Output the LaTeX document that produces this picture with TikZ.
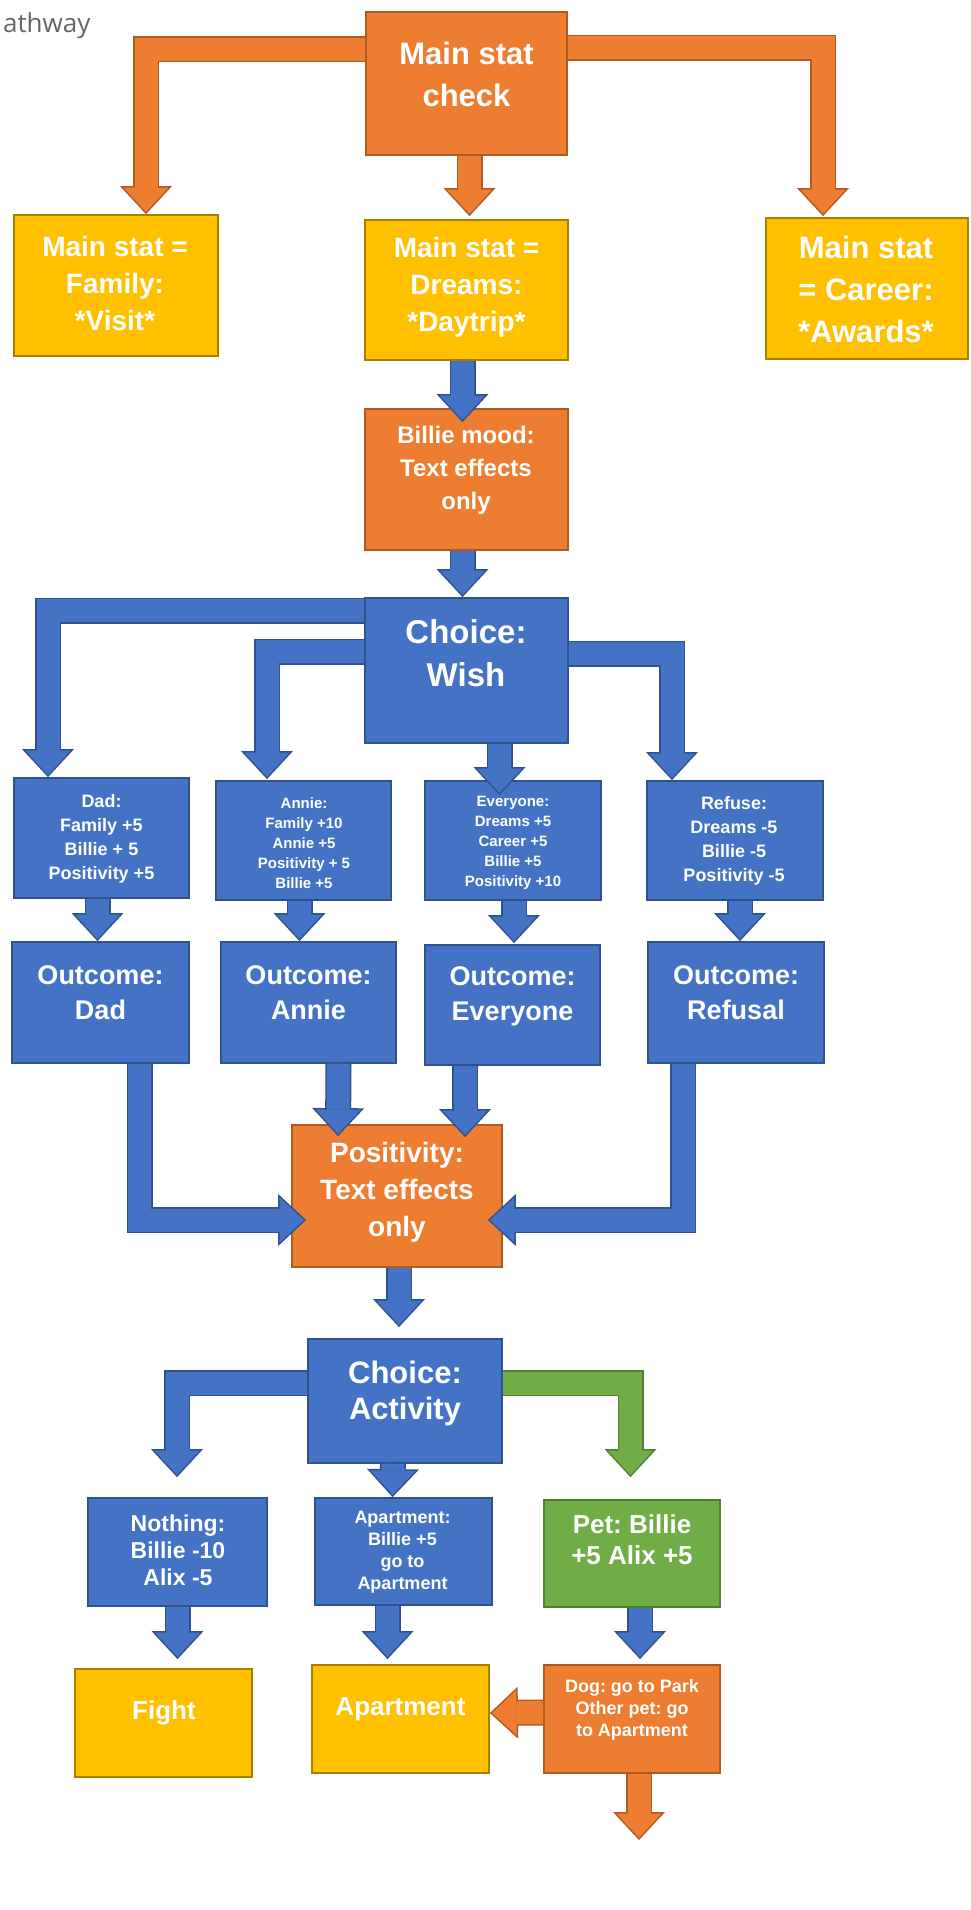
\documentclass[tikz,border=0pt]{standalone}
\usepackage{fontspec}
\setmainfont{Liberation Sans}
\newfontfamily\notefont{Open Sans}
\usetikzlibrary{arrows.meta, positioning, calc}
\definecolor{stepblue}{HTML}{4472C4}
\definecolor{stepblueedge}{HTML}{2F528F}
\definecolor{checkorange}{HTML}{ED7D31}
\definecolor{checkorangeedge}{HTML}{AE5A21}
\definecolor{resultgold}{HTML}{FFC000}
\definecolor{resultgoldedge}{HTML}{A88000}
\definecolor{petgreen}{HTML}{70AD47}
\definecolor{petgreenedge}{HTML}{507E32}
\definecolor{notegray}{HTML}{666666}

% bold white card text at a given size
\newcommand{\fs}[2]{\fontsize{#1}{#2}\selectfont\bfseries\frenchspacing}

% block arrow: fill colour, edge colour, path
\newcommand{\blockarrow}[3]{%
    \draw[#2, line width=13pt, -{Triangle[width=26pt,length=14pt,line width=0pt]}] #3;
    \draw[#1, line width=11.5pt, shorten >=1.1pt, -{Triangle[width=22.6pt,length=12.15pt,line width=0pt]}] #3;
}

\tikzset{
    card/.style={draw, line width=0.9pt, inner sep=0pt},
    bluecard/.style={card, fill=stepblue, draw=stepblueedge},
    orangecard/.style={card, fill=checkorange, draw=checkorangeedge},
    goldcard/.style={card, fill=resultgold, draw=resultgoldedge},
    greencard/.style={card, fill=petgreen, draw=petgreenedge},
    cardtext/.style={text=white, align=center, inner sep=0pt}
}

\begin{document}
\begin{tikzpicture}[x=0.5pt, y=-0.5pt]
    \useasboundingbox (0,0) rectangle (970,1910);

    % Page title, cut off at the edge
    \node[anchor=base west, font=\notefont\fontsize{13}{15}\selectfont, text=notegray] (pathway) at (-4,33) {athway};

    % Main stat check
    \node[orangecard, minimum width=100.5pt, minimum height=71.5pt] (main) at (466.5,83.5) {};
    \node[cardtext, font=\fs{15.5}{21}] (main-txt) at (466.5,74) {Main stat\\check};

    % Main stat results
    \node[goldcard, minimum width=102pt, minimum height=70.5pt] (family) at (116,285.5) {};
    \node[cardtext, font=\fs{14}{18.5}] (family-txt) at (115,283) {Main stat =\\Family:\\*Visit*};

    \node[goldcard, minimum width=101.5pt, minimum height=70pt] (dreams) at (466.5,290) {};
    \node[cardtext, font=\fs{14}{18.5}] (dreams-txt) at (466.5,287) {Main stat =\\Dreams:\\*Daytrip*};

    \node[goldcard, minimum width=101pt, minimum height=70.5pt] (career) at (867,288.5) {};
    \node[cardtext, font=\fs{15.5}{21}] (career-txt) at (866,289) {Main stat\\= Career:\\*Awards*};

    % Billie mood
    \node[orangecard, minimum width=101.5pt, minimum height=70.5pt] (mood) at (466.5,479.5) {};
    \node[cardtext, font=\fs{12}{16.5}] (mood-txt) at (466,470) {Billie mood:\\Text effects\\only};

    % Choice: Wish
    \node[bluecard, minimum width=101.5pt, minimum height=72.5pt] (wish) at (466.5,670.5) {};
    \node[cardtext, font=\fs{16.5}{21.5}] (wish-txt) at (466,653) {Choice:\\Wish};

    % Wish options
    \node[bluecard, minimum width=87.5pt, minimum height=60pt] (dad) at (101.5,838) {};
    \node[cardtext, font=\fs{9}{12}] (dad-txt) at (101.5,839) {Dad:\\Family +5\\Billie + 5\\Positivity +5};

    \node[bluecard, minimum width=87.5pt, minimum height=59.5pt] (annie) at (303.5,840.5) {};
    \node[cardtext, font=\fs{7.5}{10}] (annie-txt) at (304,843) {Annie:\\Family +10\\Annie +5\\Positivity + 5\\Billie +5};

    \node[bluecard, minimum width=88pt, minimum height=59.5pt] (every) at (513,840.5) {};
    \node[cardtext, font=\fs{7.5}{10}] (every-txt) at (513,843) {Everyone:\\Dreams +5\\Career +5\\Billie +5\\Positivity +10};

    \node[bluecard, minimum width=88pt, minimum height=59.5pt] (refuse) at (735,840.5) {};
    \node[cardtext, font=\fs{9}{12}] (refuse-txt) at (734,841) {Refuse:\\Dreams -5\\Billie -5\\Positivity -5};

    % Outcomes
    \node[bluecard, minimum width=88.5pt, minimum height=60.5pt] (odad) at (100.5,1002.5) {};
    \node[cardtext, font=\fs{13.5}{17.5}] (odad-txt) at (100.5,993) {Outcome:\\Dad};

    \node[bluecard, minimum width=87.5pt, minimum height=60.5pt] (oannie) at (308.5,1002.5) {};
    \node[cardtext, font=\fs{13.5}{17.5}] (oannie-txt) at (308.5,993) {Outcome:\\Annie};

    \node[bluecard, minimum width=87.5pt, minimum height=60pt] (oevery) at (512.5,1005) {};
    \node[cardtext, font=\fs{13.5}{17.5}] (oevery-txt) at (512.5,996) {Outcome:\\Everyone};

    \node[bluecard, minimum width=88pt, minimum height=60.5pt] (orefusal) at (736,1002.5) {};
    \node[cardtext, font=\fs{13.5}{17.5}] (orefusal-txt) at (736,993) {Outcome:\\Refusal};

    % Positivity
    \node[orangecard, minimum width=105pt, minimum height=71pt] (positivity) at (397,1196) {};
    \node[cardtext, font=\fs{14}{18.5}] (positivity-txt) at (397,1192) {Positivity:\\Text effects\\only};

    % Choice: Activity
    \node[bluecard, minimum width=97pt, minimum height=62pt] (activity) at (405,1401) {};
    \node[cardtext, font=\fs{15.5}{18}] (activity-txt) at (405,1393) {Choice:\\Activity};

    % Activity options
    \node[bluecard, minimum width=89.5pt, minimum height=54pt] (nothing) at (177.5,1552) {};
    \node[cardtext, font=\fs{11.5}{13.5}] (nothing-txt) at (178,1550) {Nothing:\\Billie -10\\Alix -5};

    \node[bluecard, minimum width=88.5pt, minimum height=53.5pt] (apart) at (403.5,1551.5) {};
    \node[cardtext, font=\fs{9}{11}] (apart-txt) at (402.5,1552) {Apartment:\\Billie +5\\go to\\Apartment};

    \node[greencard, minimum width=88pt, minimum height=53.5pt] (pet) at (632,1553.5) {};
    \node[cardtext, font=\fs{13}{15.5}] (pet-txt) at (632,1540) {Pet: Billie\\+5 Alix +5};

    % Endings
    \node[goldcard, minimum width=88.5pt, minimum height=54pt] (fight) at (163.5,1723) {};
    \node[cardtext, font=\fs{13}{15}] (fight-txt) at (164,1713) {Fight};

    \node[goldcard, minimum width=88.5pt, minimum height=54pt] (apartment) at (400.5,1719) {};
    \node[cardtext, font=\fs{13}{15}] (apartment-txt) at (400.5,1709) {Apartment};

    \node[orangecard, minimum width=88pt, minimum height=54pt] (dog) at (632,1719) {};
    \node[cardtext, font=\fs{9}{11}] (dog-txt) at (632,1710) {Dog: go to Park\\Other pet: go\\to Apartment};

    \coordinate (exit) at (639,1840);

    % Arrows from main stat check
    \blockarrow{checkorange}{checkorangeedge}{($(main.north west)+(0,38)$) -| ($(family.north)+(30,0)$)}
    \blockarrow{checkorange}{checkorangeedge}{($(main.south)+(3,0)$) -- ($(dreams.north)+(3,-3)$)}
    \blockarrow{checkorange}{checkorangeedge}{($(main.north east)+(0,36.5)$) -| ($(career.north)+(-44,-1)$)}

    % Daytrip path
    \blockarrow{stepblue}{stepblueedge}{($(dreams.south)+(-4,0)$) -- ($(mood.north)+(-4,14)$)}
    \blockarrow{stepblue}{stepblueedge}{($(mood.south)+(-4,0)$) -- ($(wish.north)+(-4,0)$)}

    % Wish choices
    \blockarrow{stepblue}{stepblueedge}{($(wish.north west)+(0,13.5)$) -| ($(dad.north)+(-53.5,0)$)}
    \blockarrow{stepblue}{stepblueedge}{($(wish.north west)+(0,54.5)$) -| ($(annie.north)+(-36.5,-1)$)}
    \blockarrow{stepblue}{stepblueedge}{($(wish.south)+(33,0)$) -- ($(every.north)+(-13.5,15)$)}
    \blockarrow{stepblue}{stepblueedge}{($(wish.north east)+(0,56.5)$) -| ($(refuse.north)+(-63,0)$)}

    % Options to outcomes
    \blockarrow{stepblue}{stepblueedge}{($(dad.south)+(-4,0)$) -- ($(odad.north)+(-3,0)$)}
    \blockarrow{stepblue}{stepblueedge}{($(annie.south)+(-4,0)$) -- ($(oannie.north)+(-9,0)$)}
    \blockarrow{stepblue}{stepblueedge}{($(every.south)+(1,0)$) -- ($(oevery.north)+(1.5,-1)$)}
    \blockarrow{stepblue}{stepblueedge}{($(refuse.south)+(5,0)$) -- ($(orefusal.north)+(4,0)$)}

    % Outcomes to positivity
    \blockarrow{stepblue}{stepblueedge}{($(odad.south)+(39,0)$) |- ($(positivity.west)+(15,24)$)}
    \blockarrow{stepblue}{stepblueedge}{($(oannie.south)+(30,0)$) -- ($(positivity.north)+(-59,12)$)}
    \blockarrow{stepblue}{stepblueedge}{($(oevery.south)+(-47.5,0)$) -- ($(positivity.north)+(68,13)$)}
    \blockarrow{stepblue}{stepblueedge}{($(orefusal.south)+(-53,0)$) |- ($(positivity.east)+(-15,24)$)}
    \blockarrow{stepblue}{stepblueedge}{($(positivity.south)+(2,0)$) -- ($(activity.north)+(-6,-11)$)}

    % Activity choices
    \blockarrow{stepblue}{stepblueedge}{($(activity.north west)+(0,45)$) -| ($(nothing.north)+(-0.5,-20)$)}
    \blockarrow{stepblue}{stepblueedge}{($(activity.south)+(-12,0)$) -- ($(apart.north)+(-11,0)$)}
    \blockarrow{petgreen}{petgreenedge}{($(activity.north east)+(0,45)$) -| ($(pet.north)+(-1.5,-22)$)}

    % Endings
    \blockarrow{stepblue}{stepblueedge}{(nothing.south) -- ($(fight.north)+(14,-9)$)}
    \blockarrow{stepblue}{stepblueedge}{($(apart.south)+(-16,0)$) -- ($(apartment.north)+(-13,-5)$)}
    \blockarrow{stepblue}{stepblueedge}{($(pet.south)+(8,0)$) -- ($(dog.north)+(8,-5)$)}
    \blockarrow{checkorange}{checkorangeedge}{($(dog.west)+(0,-6.5)$) -- ($(apartment.east)+(0,-6)$)}
    \blockarrow{checkorange}{checkorangeedge}{($(dog.south)+(7,0)$) -- (exit)}
\end{tikzpicture}
\end{document}
